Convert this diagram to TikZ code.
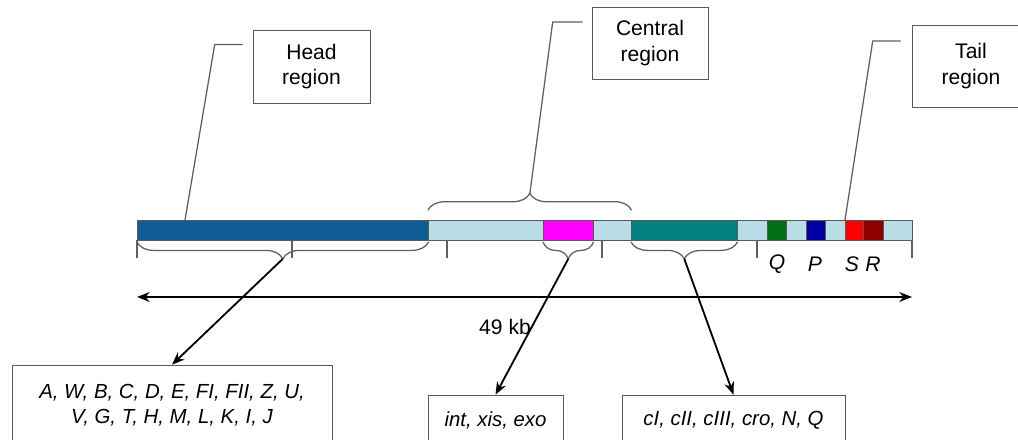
\documentclass[tikz,border=0pt]{standalone}
\usepackage{fontspec}
\setmainfont{Liberation Sans}
\usetikzlibrary{decorations.pathreplacing, arrows.meta, calc}

\definecolor{headblue}{RGB}{16,92,148}
\definecolor{pale}{RGB}{184,221,228}
\definecolor{magseg}{RGB}{255,0,255}
\definecolor{tealseg}{RGB}{0,128,128}
\definecolor{grnseg}{RGB}{0,110,20}
\definecolor{bluseg}{RGB}{0,0,160}
\definecolor{redseg}{RGB}{255,0,0}
\definecolor{dredseg}{RGB}{140,0,0}
\definecolor{linegray}{RGB}{95,95,95}

\begin{document}
\begin{tikzpicture}[x=0.025cm, y=-0.025cm, >={Stealth[length=9pt, width=7pt]},
    seg/.style={draw=gray!70!black, rectangle, anchor=north west, inner sep=0pt,
        minimum height=0.5cm, minimum width=#1*0.025cm},
    tick/.style={draw=linegray, line width=0.8pt},
    brc/.style={draw=linegray, line width=0.9pt, decorate,
        decoration={brace, amplitude=12pt, raise=1pt}},
    leader/.style={draw=linegray, line width=0.9pt},
    arr/.style={->, line width=1.3pt},
    regbox/.style={draw=gray!70!black, rectangle, align=center, inner sep=0pt,
        font=\fontsize{15}{18}\selectfont},
    genebox/.style={draw=gray!70!black, rectangle, align=center, inner sep=0pt,
        font=\fontsize{14.5}{18}\selectfont\itshape},
    gl/.style={font=\fontsize{15}{18}\selectfont\itshape, inner sep=0pt}]

    \useasboundingbox (0,0) rectangle (1018,440);
    \clip (0,0) rectangle (1018,440);

    % genome bar
    \foreach \n/\x/\w/\c in {head/137/291/headblue, lb1/428/115/pale, mag/543/50/magseg,
        lb2/593/38/pale, tl/631/106/tealseg, lb3/737/30/pale, grn/767/19/grnseg,
        lb4/786/20/pale, blu/806/19/bluseg, lb5/825/20/pale, rd/845/18/redseg,
        drd/863/20/dredseg, lb6/883/29/pale}
        \node[seg=\w, fill=\c] (\n) at (\x,220) {};

    % scale ticks
    \foreach \x in {137,292,...,912}
        \draw[tick] (\x,240) -- (\x,258);

    % braces
    \draw[brc, decoration={mirror}] (head.south west) -- (head.south east);
    \draw[brc, decoration={mirror}] (mag.south west) -- (mag.south east);
    \draw[brc, decoration={mirror}] (tl.south west) -- (tl.south east);
    \draw[brc, decoration={raise=7pt}] (lb1.north west) -- (lb2.north east);
    \coordinate (headtip) at ([yshift=-13pt]head.south);
    \coordinate (magtip) at ([yshift=-13pt]mag.south);
    \coordinate (tltip) at ([yshift=-13pt]tl.south);
    \path ($(lb1.north west)!0.5!(lb2.north east)$) ++(0,-26) coordinate (centtip);

    % region boxes
    \node[regbox, minimum width=2.925cm, minimum height=1.825cm] (hreg) at (311.5,66.5) {Head\\region};
    \node[regbox, minimum width=2.9cm, minimum height=1.8cm] (creg) at (650,43) {Central\\region};
    \node[regbox, minimum width=2.95cm, minimum height=2.05cm] (treg) at (971,66) {Tail\\region};

    \draw[leader] ([shift={(-10,-22)}]hreg.west) -- ++(-28,0) -- ([xshift=1.2cm]head.north west);
    \draw[leader] ([shift={(-9,-21)}]creg.west) -- ++(-30,0) -- (centtip);
    \draw[leader] ([shift={(-11,-25)}]treg.west) -- ++(-28,0) -- (rd.north west);

    % gene labels on the bar
    \node[gl] (qlab) at (777,264) {Q};
    \node[gl] (plab) at (815,264) {P};
    \node[gl] (slab) at (852,264) {S};
    \node[gl] (rlab) at (873,264) {R};

    % genome length
    \coordinate (lenL) at (137,297);
    \coordinate (lenR) at (912,297);
    \draw[arr, <->] (lenL) -- (lenR);
    \node[font=\fontsize{15}{18}\selectfont, inner sep=0pt] (kb) at (505,327) {49 kb};

    % gene boxes
    \node[genebox, minimum width=8cm, minimum height=2cm] (hgenes) at (172,405)
        {A, W, B, C, D, E, FI, FII, Z, U,\\V, G, T, H, M, L, K, I, J};
    \node[genebox, minimum width=3.375cm, minimum height=1.25cm] (cgenes) at (495.5,420) {int, xis, exo};
    \node[genebox, minimum width=5.575cm, minimum height=1.25cm] (tgenes) at (733.5,420) {cI, cII, cIII, cro, N, Q};

    \draw[arr] (headtip) -- (hgenes.north);
    \draw[arr] (magtip) -- (cgenes.north);
    \draw[arr] (tltip) -- (tgenes.north);
\end{tikzpicture}
\end{document}
